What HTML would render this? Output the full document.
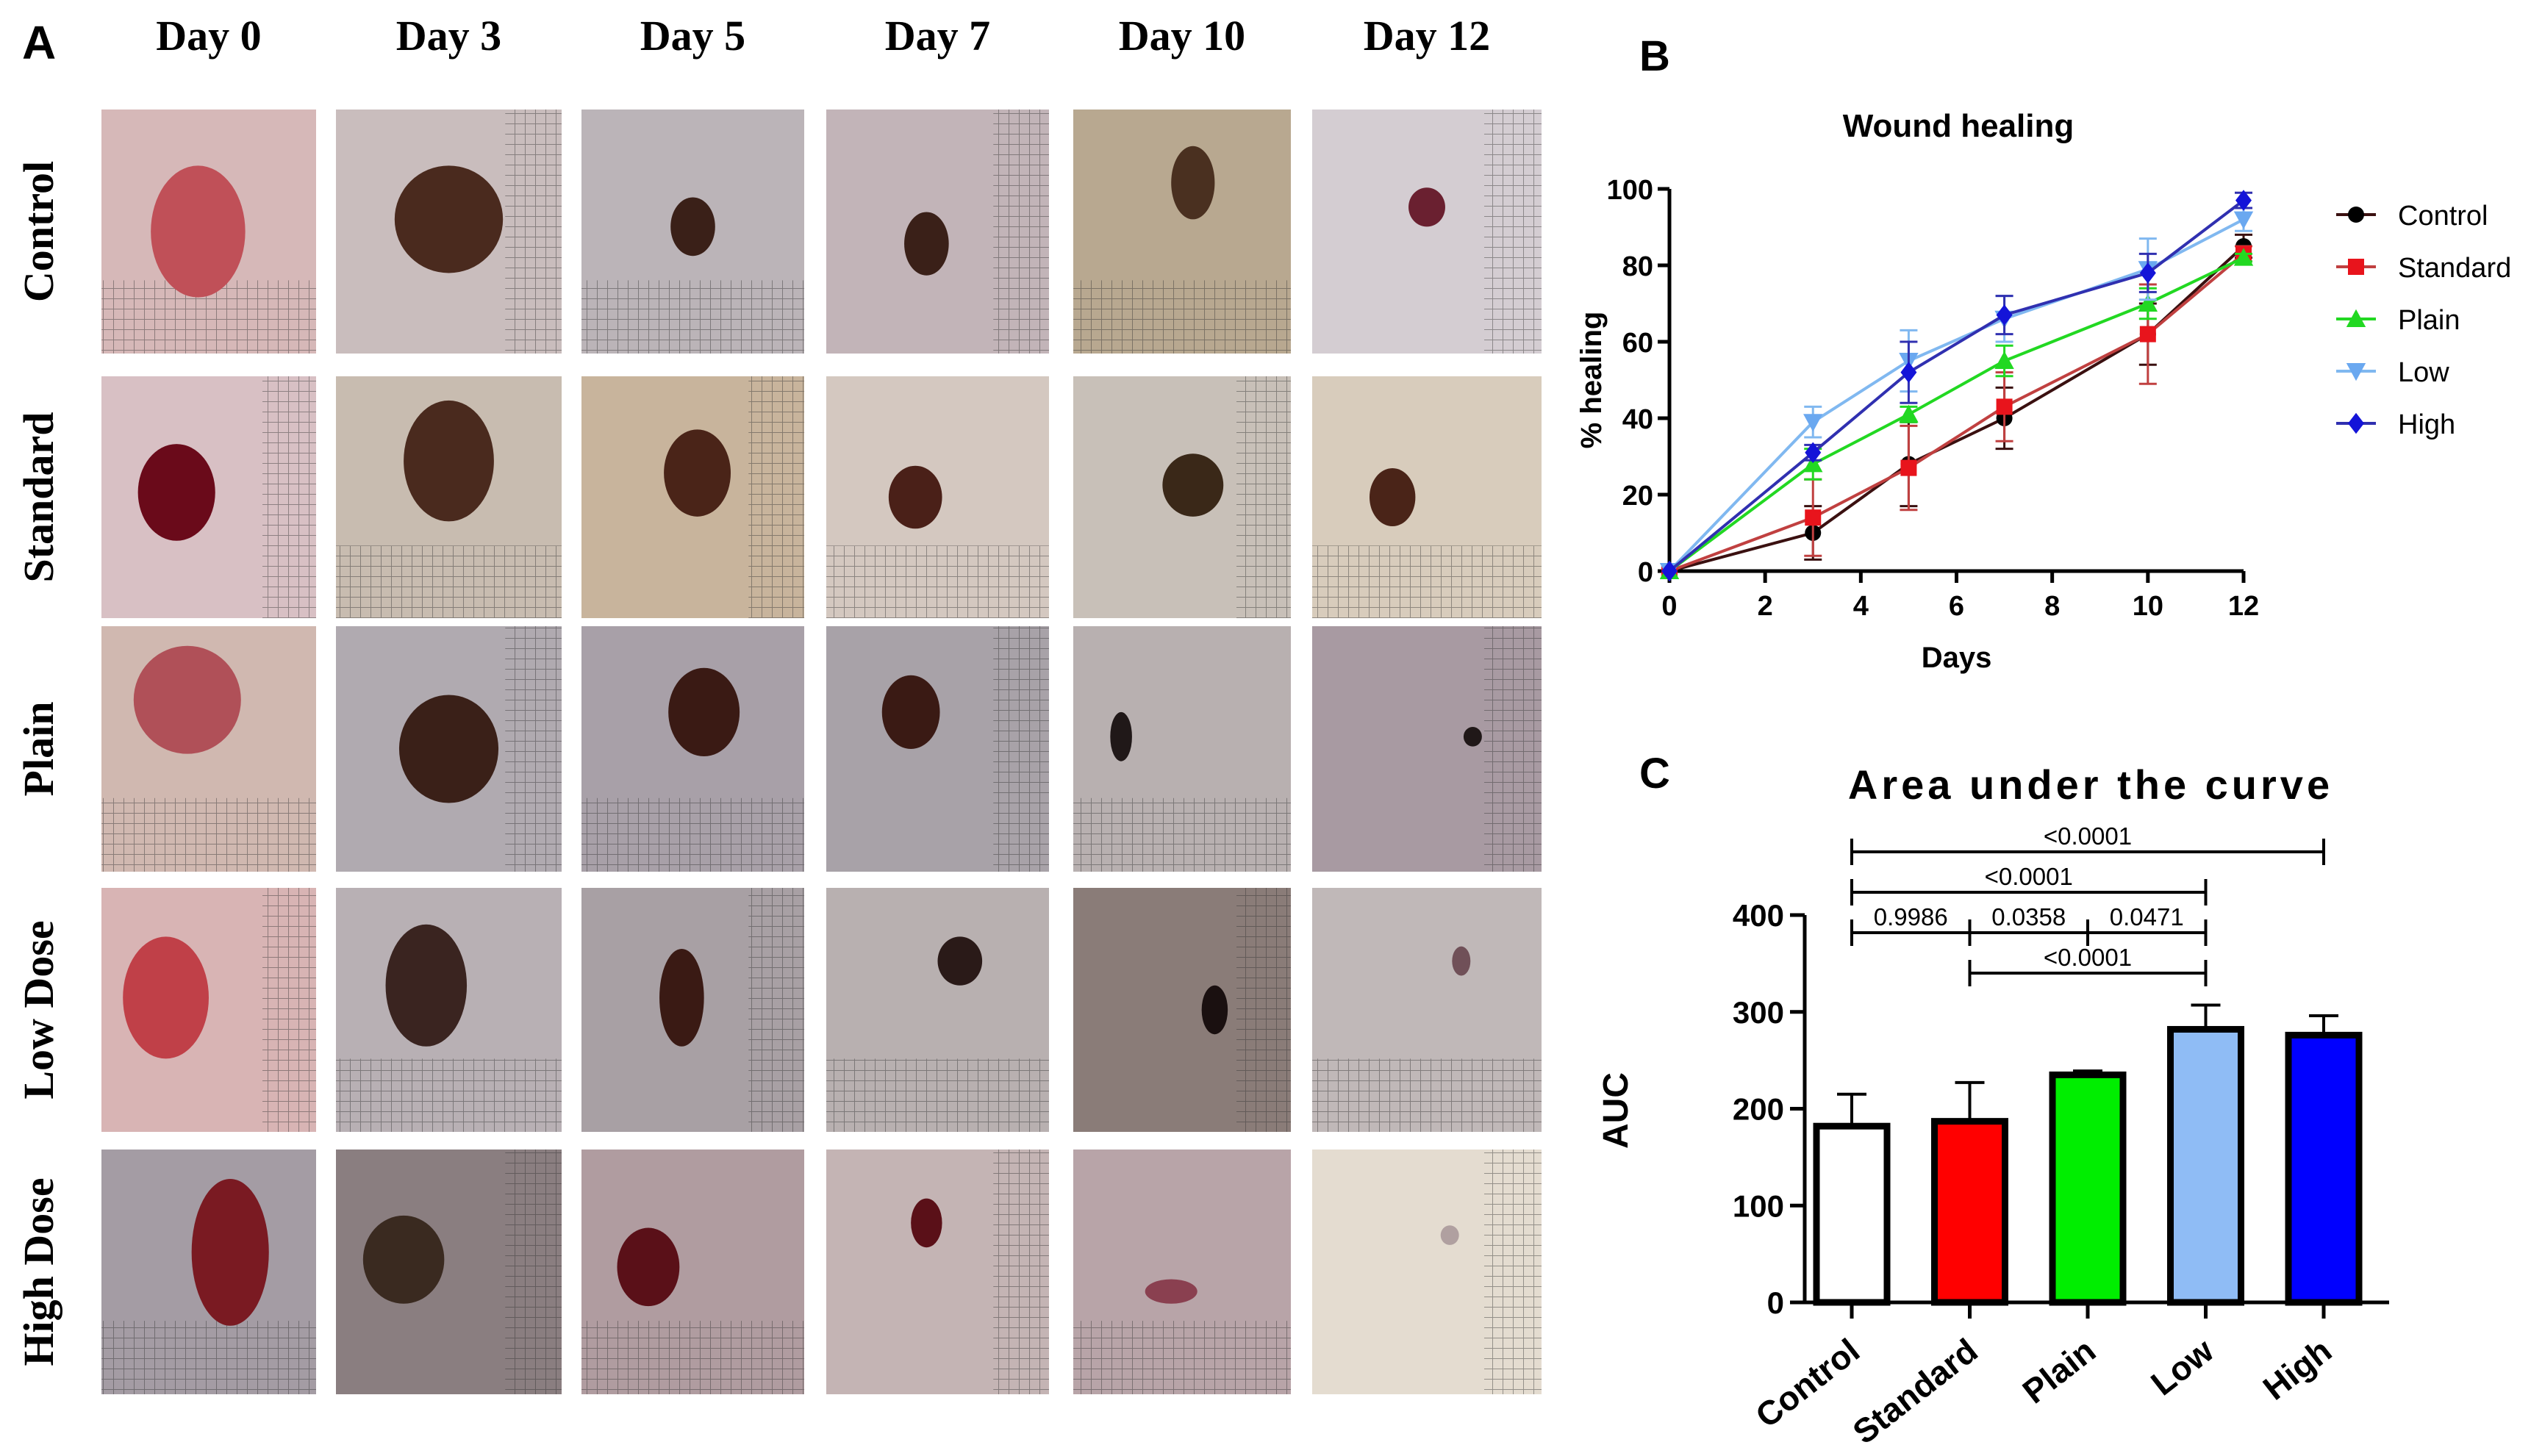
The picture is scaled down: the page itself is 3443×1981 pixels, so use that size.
<!DOCTYPE html>
<html><head><meta charset="utf-8">
<style>
html,body{margin:0;padding:0;background:#fff;}
svg{display:block;}
text{font-family:"Liberation Sans",sans-serif;}
.serif{font-family:"Liberation Serif",serif;font-weight:bold;}
</style></head>
<body>
<svg id="root" width="3443" height="1981" viewBox="0 0 3443 1981" xmlns="http://www.w3.org/2000/svg">
<defs>
<pattern id="grid" width="14" height="14" patternUnits="userSpaceOnUse"><path d="M0 0H14M0 0V14" stroke="#333" stroke-width="2" fill="none"/></pattern>
</defs>
<text x="30" y="80" font-size="64" font-weight="bold">A</text>
<text x="2230" y="96" font-size="58" font-weight="bold">B</text>
<text x="2230" y="1072" font-size="58" font-weight="bold">C</text>
<g id="panelA"></g>
<g id="panelB"></g>
<g id="panelC"></g>
</svg>
<script>
// ---------- Line chart data ----------
const days = [0, 3, 5, 7, 10, 12];
const seriesNames = ["Control", "Standard", "Plain", "Low", "High"];
const controlVals = [0, 10, 28, 40, 62, 85];
const standardVals = [0, 14, 27, 43, 62, 83];
const plainVals = [0, 28, 41, 55, 70, 82];
const lowVals = [0, 39, 55, 66, 79, 92];
const highVals = [0, 31, 52, 67, 78, 97];
const controlErr = [0, 7, 11, 8, 8, 3];
const standardErr = [0, 10, 11, 9, 13, 2];
const plainErr = [0, 4, 2, 4, 4, 1];
const lowErr = [0, 4, 8, 6, 8, 3];
const highErr = [0, 2, 8, 5, 5, 2];
const xTicksB = [0, 2, 4, 6, 8, 10, 12];
const yTicksB = [0, 20, 40, 60, 80, 100];
// ---------- Bar chart data ----------
const groups = ["Control", "Standard", "Plain", "Low", "High"];
const aucVals = [182, 187, 235, 282, 276];
const aucErr = [33, 40, 4, 25, 20];
const yTicksC = [0, 100, 200, 300, 400];
const sigLabels = ["<0.0001", "<0.0001", "0.9986", "0.0358", "0.0471", "<0.0001"];
const sigFrom = [0, 0, 0, 1, 2, 1];
const sigTo = [4, 3, 1, 2, 3, 3];
const sigLevel = [0, 1, 2, 2, 2, 3];

const NS = "http://www.w3.org/2000/svg";
function mk(parent, tag, attrs, txt) {
  const e = document.createElementNS(NS, tag);
  for (const k in attrs) e.setAttribute(k, attrs[k]);
  if (txt !== undefined) e.textContent = txt;
  parent.appendChild(e);
  return e;
}

// ---------- Panel A ----------
(function () {
  const g = document.getElementById("panelA");
  const colX = [138, 457, 791, 1124, 1460, 1785];
  const colW = [292, 307, 303, 303, 296, 312];
  const rowY = [149, 512, 852, 1208, 1564];
  const rowH = [332, 329, 334, 332, 333];
  const dayLabels = ["Day 0", "Day 3", "Day 5", "Day 7", "Day 10", "Day 12"];
  const rowLabels = ["Control", "Standard", "Plain", "Low Dose", "High Dose"];
  const base = [
    ["#d6b8b8","#c9bdbd","#bbb4b8","#c2b4b8","#b8a890","#d4cdd2"],
    ["#d8c0c4","#c8bcb0","#c8b49c","#d4c8c0","#c8c0b8","#d8ccbc"],
    ["#d0b8b0","#b0aab0","#a8a0a8","#a8a2a8","#b8b0b0","#a89aa2"],
    ["#d8b4b4","#b8b0b4","#a8a0a4","#b8b0b0","#8a7c78","#c0b8b8"],
    ["#a49ca4","#8a7e80","#b09ca0","#c4b4b4","#b8a4a8","#e4dcd0"]];
  const wounds = [
    [[.45,.5,.22,.27,"#c05058"],[.5,.45,.24,.22,"#4a2a1e"],[.5,.48,.1,.12,"#3a2018"],[.45,.55,.1,.13,"#3a2018"],[.55,.3,.1,.15,"#4a3020"],[.5,.4,.08,.08,"#6a2030"]],
    [[.35,.48,.18,.2,"#6a0a1a"],[.5,.35,.2,.25,"#4a2a1e"],[.52,.4,.15,.18,"#4a2418"],[.4,.5,.12,.13,"#4a2018"],[.55,.45,.14,.13,"#3a2818"],[.35,.5,.1,.12,"#4a2418"]],
    [[.4,.3,.25,.22,"#b05058"],[.5,.5,.22,.22,"#3a2018"],[.55,.35,.16,.18,"#3a1a14"],[.38,.35,.13,.15,"#3a1a14"],[.22,.45,.05,.1,"#201818"],[.7,.45,.04,.04,"#201818"]],
    [[.3,.45,.2,.25,"#c04048"],[.4,.4,.18,.25,"#3a2420"],[.45,.45,.1,.2,"#3a1a14"],[.6,.3,.1,.1,"#2a1a18"],[.65,.5,.06,.1,"#1a1010"],[.65,.3,.04,.06,"#705058"]],
    [[.6,.42,.18,.3,"#7a1a22"],[.3,.45,.18,.18,"#3a2a20"],[.3,.48,.14,.16,"#5a1018"],[.45,.3,.07,.1,"#5a1018"],[.45,.58,.12,.05,"#8a4050"],[.6,.35,.04,.04,"#b0a0a0"]]];
  dayLabels.forEach((d, i) => {
    const t = mk(g, "text", {x: colX[i] + colW[i] / 2, y: 68, "font-size": 58, "text-anchor": "middle", class: "serif"}, d);
    
    
  });
  rowLabels.forEach((r, j) => {
    const cy = rowY[j] + rowH[j] / 2;
    const t = mk(g, "text", {x: 0, y: 0, "font-size": 58, "text-anchor": "middle", class: "serif", transform: `translate(72 ${cy}) rotate(-90)`}, r);
    
    
  });
  for (let j = 0; j < 5; j++) for (let i = 0; i < 6; i++) {
    const x = colX[i], y = rowY[j], w = colW[i], h = rowH[j];
    const cell = mk(g, "g", {});
    
    
    mk(cell, "rect", {x, y, width: w, height: h, fill: base[j][i]});
    if ((i + j) % 2 === 0) mk(cell, "rect", {x, y: y + h * 0.7, width: w, height: h * 0.3, fill: "url(#grid)", opacity: 0.45});
    else mk(cell, "rect", {x: x + w * 0.75, y, width: w * 0.25, height: h, fill: "url(#grid)", opacity: 0.45});
    const wd = wounds[j][i];
    mk(cell, "ellipse", {cx: x + wd[0] * w, cy: y + wd[1] * h, rx: wd[2] * w, ry: wd[3] * h, fill: wd[4]});
  }
})();

// ---------- Panel B ----------
(function () {
  const g = document.getElementById("panelB");
  const X0 = 2271, X1 = 3052, Y0 = 777, Y1 = 257;
  const sx = v => X0 + (v - 0) / 12 * (X1 - X0);
  const sy = v => Y0 - v / 100 * (Y0 - Y1);
  const title = mk(g, "text", {x: 2664, y: 186, "font-size": 44, "font-weight": "bold", "text-anchor": "middle"}, "Wound healing");
  
  
  const ax = mk(g, "path", {d: `M${X0} ${Y1}V${Y0}H${X1}`, stroke: "#000", "stroke-width": 5, fill: "none"});
  
  
  yTicksB.forEach(v => {
    mk(g, "line", {x1: X0 - 16, x2: X0, y1: sy(v), y2: sy(v), stroke: "#000", "stroke-width": 5});
    const t = mk(g, "text", {x: X0 - 22, y: sy(v) + 14, "font-size": 38, "font-weight": "bold", "text-anchor": "end"}, v);
    
    
  });
  xTicksB.forEach(v => {
    mk(g, "line", {x1: sx(v), x2: sx(v), y1: Y0, y2: Y0 + 16, stroke: "#000", "stroke-width": 5});
    const t = mk(g, "text", {x: sx(v), y: Y0 + 60, "font-size": 38, "font-weight": "bold", "text-anchor": "middle"}, v);
    
    
  });
  const yl = mk(g, "text", {x: 0, y: 0, "font-size": 40, "font-weight": "bold", "text-anchor": "middle", transform: `translate(2178 ${sy(50)}) rotate(-90)`}, "% healing");
  
  
  const xl = mk(g, "text", {x: (X0 + X1) / 2, y: 908, "font-size": 40, "font-weight": "bold", "text-anchor": "middle"}, "Days");
  
  
  const vals = [controlVals, standardVals, plainVals, lowVals, highVals];
  const errs = [controlErr, standardErr, plainErr, lowErr, highErr];
  const colors = ["#000000", "#e8141c", "#22d822", "#6aa8f0", "#1414d8"];
  const lineCols = ["#3a1010", "#c04040", "#22d822", "#80b8f0", "#3030b0"];
  function marker(p, k, cx, cy, s) {
    const c = colors[k];
    if (k === 0) return mk(p, "circle", {cx, cy, r: s, fill: c});
    if (k === 1) return mk(p, "rect", {x: cx - s, y: cy - s, width: 2 * s, height: 2 * s, fill: c});
    if (k === 2) return mk(p, "polygon", {points: `${cx},${cy - s * 1.2} ${cx - s * 1.2},${cy + s} ${cx + s * 1.2},${cy + s}`, fill: c});
    if (k === 3) return mk(p, "polygon", {points: `${cx - s * 1.2},${cy - s} ${cx + s * 1.2},${cy - s} ${cx},${cy + s * 1.2}`, fill: c});
    return mk(p, "polygon", {points: `${cx},${cy - s * 1.3} ${cx + s},${cy} ${cx},${cy + s * 1.3} ${cx - s},${cy}`, fill: c});
  }
  vals.forEach((arr, k) => {
    const sg = mk(g, "g", {});
    
    
    arr.forEach((v, i) => {
      const e = errs[k][i];
      if (e > 0) {
        mk(sg, "path", {d: `M${sx(days[i])} ${sy(v - e)}V${sy(v + e)}M${sx(days[i]) - 12} ${sy(v - e)}h24M${sx(days[i]) - 12} ${sy(v + e)}h24`, stroke: lineCols[k], "stroke-width": 3, fill: "none"});
      }
    });
    mk(sg, "polyline", {points: arr.map((v, i) => `${sx(days[i])},${sy(v)}`).join(" "), stroke: lineCols[k], "stroke-width": 4, fill: "none"});
    arr.forEach((v, i) => {
      const m = marker(sg, k, sx(days[i]), sy(v), 11);
      
      
    });
  });
  seriesNames.forEach((n, k) => {
    const y = 292 + k * 71;
    const lg = mk(g, "g", {});
    
    
    mk(lg, "line", {x1: 3178, x2: 3232, y1: y, y2: y, stroke: lineCols[k], "stroke-width": 4});
    marker(lg, k, 3205, y, 11);
    mk(lg, "text", {x: 3262, y: y + 14, "font-size": 38}, n);
  });
})();

// ---------- Panel C ----------
(function () {
  const g = document.getElementById("panelC");
  const X0 = 2455, X1 = 3250, Y0 = 1772, Y400 = 1245;
  const sy = v => Y0 - v / 400 * (Y0 - Y400);
  const cx = i => 2519 + i * 160.5;
  const fills = ["#ffffff", "#ff0000", "#00ee00", "#8fbcf5", "#0000ff"];
  const title = mk(g, "text", {x: 2844, y: 1087, "font-size": 56, "font-weight": "bold", "text-anchor": "middle", "letter-spacing": "5"}, "Area under the curve");
  
  
  const ax = mk(g, "path", {d: `M${X0} ${Y400}V${Y0}H${X1}`, stroke: "#000", "stroke-width": 5, fill: "none"});
  
  
  yTicksC.forEach(v => {
    mk(g, "line", {x1: X0 - 20, x2: X0, y1: sy(v), y2: sy(v), stroke: "#000", "stroke-width": 5});
    const t = mk(g, "text", {x: X0 - 28, y: sy(v) + 15, "font-size": 42, "font-weight": "bold", "text-anchor": "end"}, v);
    
    
  });
  const yl = mk(g, "text", {x: 0, y: 0, "font-size": 48, "font-weight": "bold", "text-anchor": "middle", transform: `translate(2214 1511) rotate(-90)`}, "AUC");
  
  
  groups.forEach((n, i) => {
    const x = cx(i), v = aucVals[i], e = aucErr[i];
    mk(g, "path", {d: `M${x} ${sy(v)}V${sy(v + e)}M${x - 20} ${sy(v + e)}h40`, stroke: "#000", "stroke-width": 4, fill: "none"});
    const b = mk(g, "rect", {x: x - 48, y: sy(v), width: 96, height: Y0 - sy(v), fill: fills[i], stroke: "#000", "stroke-width": 9});
    
    
    mk(g, "line", {x1: x, x2: x, y1: Y0, y2: Y0 + 22, stroke: "#000", "stroke-width": 5});
    const t = mk(g, "text", {x: 0, y: 0, "font-size": 46, "font-weight": "bold", "text-anchor": "end", transform: `translate(${x + 14} ${Y0 + 72}) rotate(-38)`}, n);
    
    
  });
  const levelY = [1159, 1214, 1269, 1324];
  sigLabels.forEach((s, k) => {
    const y = levelY[sigLevel[k]];
    const x1 = cx(sigFrom[k]), x2 = cx(sigTo[k]);
    const sg = mk(g, "g", {});
    
    
    mk(sg, "path", {d: `M${x1} ${y - 18}V${y + 18}M${x2} ${y - 18}V${y + 18}M${x1} ${y}H${x2}`, stroke: "#000", "stroke-width": 4, fill: "none"});
    mk(sg, "text", {x: (x1 + x2) / 2, y: y - 10, "font-size": 33, "text-anchor": "middle"}, s);
  });
})();
</script>
</body></html>
